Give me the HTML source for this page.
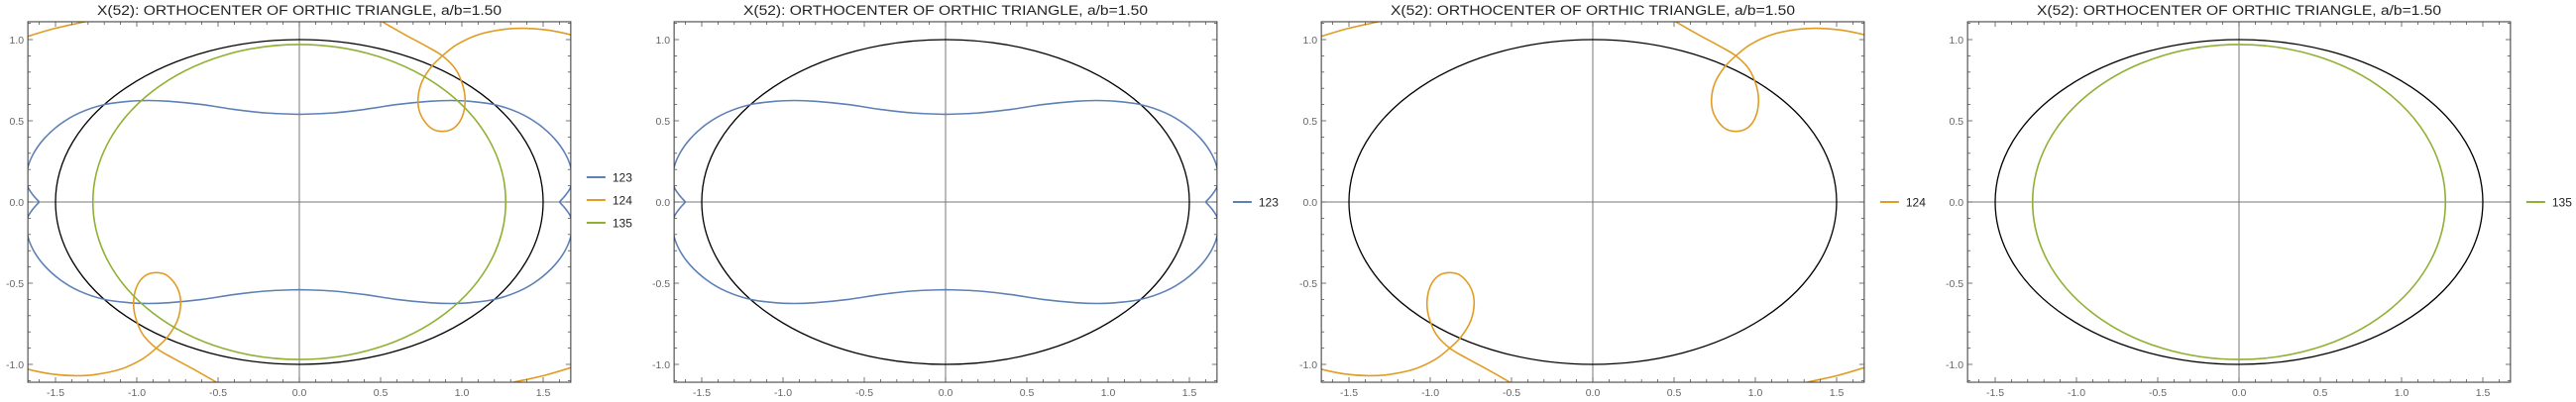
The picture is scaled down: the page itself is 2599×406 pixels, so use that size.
<!DOCTYPE html>
<html><head><meta charset="utf-8"><style>
html,body{margin:0;padding:0;background:#fff;}
svg{display:block;}
text{font-family:"Liberation Sans",sans-serif;}
</style></head><body>
<svg id="chart" width="2599" height="406" viewBox="0 0 2599 406" xmlns="http://www.w3.org/2000/svg"></svg>
<script>
// ----- data -----
const panelSeries = [["123","124","135"],["123"],["124"],["135"]];
const seriesColors = {"123":"#5e81b5","124":"#e19c24","135":"#8fb032"};
const xTicks = [-1.5,-1.0,-0.5,0.0,0.5,1.0,1.5];
const xTickLabels = ["-1.5","-1.0","-0.5","0.0","0.5","1.0","1.5"];
const yTicks = [-1.0,-0.5,0.0,0.5,1.0];
const yTickLabels = ["-1.0","-0.5","0.0","0.5","1.0"];
const xRange = [-1.67,1.67];
const yRange = [-1.11,1.11];
// outer ellipse (black) and 135 ellipse semi-axes
const ellipseBlack = [1.5,1.0];
const ellipse135 = [1.27,0.97];
// 123: upper-right quadrant (mirrored)
const blue123X = [0,0.2,0.4,0.6,0.8,0.93,1.05,1.2,1.35,1.47,1.57,1.64,1.675,1.672,1.64,1.60];
const blue123Y = [0.54,0.548,0.57,0.6,0.62,0.625,0.62,0.6,0.55,0.48,0.39,0.29,0.19,0.1,0.045,0];
// 124: upper-right branch (point-reflected) and corner arc (point-reflected)
const orange124X = [0.51,0.65,0.78,0.88,0.96,1.005,1.02,1.0,0.95,0.88,0.81,0.75,0.73,0.75,0.81,0.88,0.97,1.1,1.25,1.38,1.52,1.67,1.72];
const orange124Y = [1.11,1.03,0.96,0.90,0.82,0.72,0.62,0.52,0.455,0.435,0.455,0.53,0.62,0.73,0.83,0.90,0.97,1.03,1.062,1.07,1.06,1.03,1.01];
const corner124X = [-1.72,-1.67,-1.5,-1.32,-1.25];
const corner124Y = [1.0,1.02,1.07,1.11,1.13];

const panelX0 = [302,954,1607,2259];
const unit = 164, y0 = 204;
const svg = document.getElementById('chart');
const NS = 'http://www.w3.org/2000/svg';
function mk(tag, attrs, parent){const e=document.createElementNS(NS,tag);for(const k in attrs)e.setAttribute(k,attrs[k]);(parent||svg).appendChild(e);return e;}
function smooth(pts){
  let d='M'+pts[0][0].toFixed(2)+','+pts[0][1].toFixed(2);
  for(let i=0;i<pts.length-1;i++){
    const p0=pts[Math.max(0,i-1)],p1=pts[i],p2=pts[i+1],p3=pts[Math.min(pts.length-1,i+2)];
    const c1=[p1[0]+(p2[0]-p0[0])/6,p1[1]+(p2[1]-p0[1])/6];
    const c2=[p2[0]-(p3[0]-p1[0])/6,p2[1]-(p3[1]-p1[1])/6];
    d+=' C'+c1[0].toFixed(2)+','+c1[1].toFixed(2)+' '+c2[0].toFixed(2)+','+c2[1].toFixed(2)+' '+p2[0].toFixed(2)+','+p2[1].toFixed(2);
  }
  return d;
}

panelSeries.forEach((series,pi)=>{
  const x0=panelX0[pi];
  const sx=v=>x0+v*unit, sy=v=>y0-v*unit;
  const L=sx(xRange[0]),R=sx(xRange[1]),T=sy(yRange[1]),B=sy(yRange[0]);
  const g=mk('g',{});
  
  
  const title=mk('text',{x:x0,y:15,'text-anchor':'middle','font-size':'13.5',fill:'#222',textLength:'408',lengthAdjust:'spacingAndGlyphs'},g);
  title.textContent='X(52): ORTHOCENTER OF ORTHIC TRIANGLE, a/b=1.50';
  
  
  const cid='clip'+pi;
  const cp=mk('clipPath',{id:cid},g);mk('rect',{x:L,y:T,width:R-L,height:B-T},cp);
  const plot=mk('g',{'clip-path':'url(#'+cid+')'},g);
  
  
  // axes
  mk('line',{x1:L,x2:R,y1:sy(0),y2:sy(0),stroke:'#777','stroke-width':1},plot);
  mk('line',{x1:sx(0),x2:sx(0),y1:T,y2:B,stroke:'#777','stroke-width':1},plot);
  // ellipses
  const eb=mk('ellipse',{cx:sx(0),cy:sy(0),rx:ellipseBlack[0]*unit,ry:ellipseBlack[1]*unit,fill:'none',stroke:'#000','stroke-width':1.3},plot);
  
  
  series.forEach(s=>{
    const col=seriesColors[s];
    if(s==='135'){
      const e=mk('ellipse',{cx:sx(0),cy:sy(0),rx:ellipse135[0]*unit,ry:ellipse135[1]*unit,fill:'none',stroke:col,'stroke-width':1.6},plot);
      
      
    } else if(s==='123'){
      [[1,1],[-1,1],[1,-1],[-1,-1]].forEach(([mx,my])=>{
        const pts=blue123X.map((x,i)=>[sx(mx*x),sy(my*blue123Y[i])]);
        const p=mk('path',{d:smooth(pts),fill:'none',stroke:col,'stroke-width':1.6},plot);
        
        
      });
    } else {
      [1,-1].forEach(m=>{
        const pts=orange124X.map((x,i)=>[sx(m*x),sy(m*orange124Y[i])]);
        const p=mk('path',{d:smooth(pts),fill:'none',stroke:col,'stroke-width':1.6},plot);
        
        
        const pts2=corner124X.map((x,i)=>[sx(m*x),sy(m*corner124Y[i])]);
        const p2=mk('path',{d:smooth(pts2),fill:'none',stroke:col,'stroke-width':1.6},plot);
        
        
      });
    }
  });
  // frame
  const fr=mk('rect',{x:L,y:T,width:R-L,height:B-T,fill:'none',stroke:'#333','stroke-width':1},g);
  
  
  // minor/major ticks
  for(let k=-16;k<=16;k++){
    const v=k/10, major=(k%5===0), len=major?5:3;
    const X=sx(v);
    mk('line',{x1:X,x2:X,y1:B,y2:B-len,stroke:'#555','stroke-width':0.8},g);
    mk('line',{x1:X,x2:X,y1:T,y2:T+len,stroke:'#555','stroke-width':0.8},g);
  }
  for(let k=-11;k<=11;k++){
    const v=k/10, major=(k%5===0), len=major?5:3;
    const Y=sy(v);
    mk('line',{x1:L,x2:L+len,y1:Y,y2:Y,stroke:'#555','stroke-width':0.8},g);
    mk('line',{x1:R,x2:R-len,y1:Y,y2:Y,stroke:'#555','stroke-width':0.8},g);
  }
  xTicks.forEach((v,i)=>{
    const t=mk('text',{x:sx(v),y:400,'text-anchor':'middle','font-size':'10.5',fill:'#666'},g);
    t.textContent=xTickLabels[i];
    
    
  });
  yTicks.forEach((v,i)=>{
    const t=mk('text',{x:L-4,y:sy(v)+4,'text-anchor':'end','font-size':'10.5',fill:'#666'},g);
    t.textContent=yTickLabels[i];
    
    
  });
  // legend
  const ly0 = series.length===1 ? 204 : 179;
  series.forEach((s,i)=>{
    const ly=ly0+i*23;
    const lg=mk('g',{},g);
    
    
    mk('line',{x1:R+16,x2:R+35,y1:ly,y2:ly,stroke:seriesColors[s],'stroke-width':2},lg);
    const t=mk('text',{x:R+42,y:ly+4.5,'font-size':'12',fill:'#222'},lg);
    t.textContent=s;
  });
});
</script>
</body></html>
